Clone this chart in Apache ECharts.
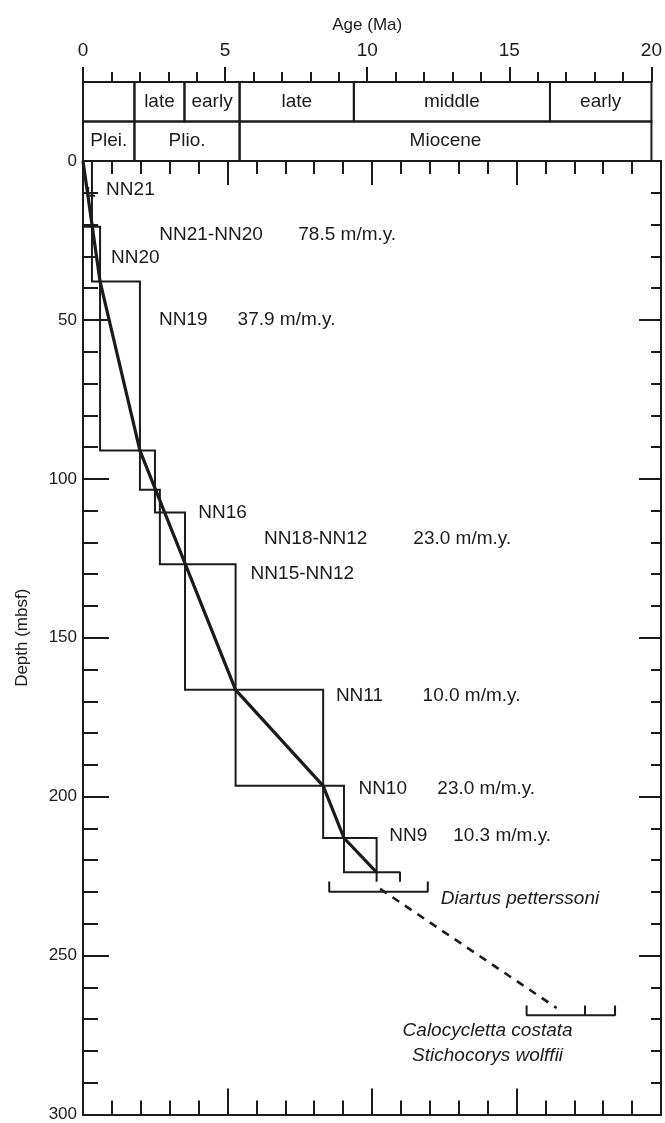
<!DOCTYPE html>
<html>
<head>
<meta charset="utf-8">
<script src="https://cdn.jsdelivr.net/npm/echarts@6/dist/echarts.min.js"></script>
<style>
html,body{margin:0;padding:0;background:#fff;}
#chart{width:665px;height:1123px;}
</style>
</head>
<body>
<div id="chart"></div>
<script>
// ---------- data ----------
const subEpochs = [["",0,1.81],["late",1.81,3.57],["early",3.57,5.51],["late",5.51,9.53],["middle",9.53,16.43],["early",16.43,20]];
const epochs = [["Plei.",0,1.81],["Plio.",1.81,5.51],["Miocene",5.51,20]];
// zone boxes: [name, ageTop, ageBase, depthTop, depthBase]
const zoneBoxes = [
  ["NN21",0,0.31,0,20.7],
  ["NN20",0.31,0.59,20.7,37.9],
  ["NN19",0.59,1.97,37.9,91.1],
  ["NN18",1.97,2.49,91.1,103.4],
  ["NN17",2.49,2.66,103.4,110.6],
  ["NN16",2.66,3.53,110.6,126.9],
  ["NN15-NN12",3.53,5.28,126.9,166.4],
  ["NN11",5.28,8.31,166.4,196.6],
  ["NN10",8.31,9.03,196.6,213.0],
  ["NN9",9.03,10.16,213.0,223.8]
];
// age-depth curve [age, depth]
const ageDepthLine = [[0,0],[0.59,37.9],[1.97,91.1],[5.28,166.4],[8.31,196.6],[9.03,213.0],[10.16,223.8]];
const nn21Mark = [[0.18,8.2],[0.18,10.9],[0.42,10.9]];
const nn8Piece = [[10.16,226.8],[10.16,223.8],[10.97,223.8],[10.97,226.8]];
const diartusRange = [[8.52,226.7],[8.52,229.9],[11.93,229.9],[11.93,226.7]];
const calocyclettaRange = [[15.35,265.7],[15.35,268.8],[18.41,268.8],[18.41,265.7]];
const calocyclettaMid = [[17.37,265.7],[17.37,268.8]];
const extrapolation = [[10.28,229.0],[16.39,266.5]];
// annotations: [age, depth, text, italic, align]
const annotations = [
  [0.80,9.1,"NN21",false,"left"],
  [2.64,23.2,"NN21-NN20",false,"left"],
  [7.45,23.2,"78.5 m/m.y.",false,"left"],
  [0.97,30.6,"NN20",false,"left"],
  [2.63,50.0,"NN19",false,"left"],
  [5.35,50.0,"37.9 m/m.y.",false,"left"],
  [3.99,110.7,"NN16",false,"left"],
  [6.26,118.9,"NN18-NN12",false,"left"],
  [11.43,118.9,"23.0 m/m.y.",false,"left"],
  [5.80,129.8,"NN15-NN12",false,"left"],
  [8.75,168.3,"NN11",false,"left"],
  [11.75,168.3,"10.0 m/m.y.",false,"left"],
  [9.53,197.6,"NN10",false,"left"],
  [12.26,197.6,"23.0 m/m.y.",false,"left"],
  [10.60,212.3,"NN9",false,"left"],
  [12.81,212.3,"10.3 m/m.y.",false,"left"],
  [12.38,232.2,"Diartus petterssoni",true,"left"],
  [14.00,273.6,"Calocycletta costata",true,"center"],
  [14.00,281.5,"Stichocorys wolffii",true,"center"]
];
const ageMin = 0, ageMax = 20, ageMajor = 5, ageMinor = 1;
const depthMin = 0, depthMax = 300, depthMajor = 50, depthMinor = 10;

// ---------- chart ----------
const INK = '#1b1b1b';
const FONT = '"Liberation Sans", Arial, Helvetica, sans-serif';
const chart = echarts.init(document.getElementById('chart'), null, {renderer:'canvas'});

const headerCells = [];
subEpochs.forEach(d => headerCells.push([d[1], d[2], 0, d[0]]));
epochs.forEach(d => headerCells.push([d[1], d[2], 1, d[0]]));

function polySeries(data, width, type) {
  return {
    type:'line', xAxisIndex:1, yAxisIndex:1, data:data, symbol:'none', silent:true,
    lineStyle:{color:INK, width:width, type:type||'solid'}, z:3, animation:false
  };
}
function tickAxis(kind, pos, min, max, step, len, showLine) {
  const ax = {gridIndex:1, type:'value', position:pos, min:min, max:max, interval:step,
    axisLine:{show:showLine, onZero:false, lineStyle:{color:INK, width:2}},
    axisTick:{show:true, inside:true, length:len, lineStyle:{color:INK, width:2}},
    axisLabel:{show:false}, splitLine:{show:false}};
  if (kind === 'y') ax.inverse = true;
  return ax;
}

const option = {
  backgroundColor:'#fff',
  animation:false,
  grid:[
    {left:83, right:4, top:82, height:79},
    {left:83, right:4, top:161, bottom:7}
  ],
  xAxis:[
    {gridIndex:0, type:'value', position:'top', min:ageMin, max:ageMax, interval:ageMajor,
     name:'Age (Ma)', nameLocation:'middle', nameGap:48,
     nameTextStyle:{fontFamily:FONT, fontSize:17, color:INK},
     axisLine:{show:true, onZero:false, lineStyle:{color:INK, width:2}},
     axisTick:{show:true, length:15, lineStyle:{color:INK, width:2}},
     minorTick:{show:true, splitNumber:5, length:10, lineStyle:{color:INK, width:2}},
     axisLabel:{fontFamily:FONT, fontSize:19, color:INK, margin:22},
     splitLine:{show:false}},
    tickAxis('x','top',ageMin,ageMax,ageMajor,24,true),
    tickAxis('x','top',ageMin,ageMax,ageMinor,13,false),
    tickAxis('x','bottom',ageMin,ageMax,ageMajor,26,true),
    tickAxis('x','bottom',ageMin,ageMax,ageMinor,14,false)
  ],
  yAxis:[
    {gridIndex:0, type:'value', min:0, max:2, inverse:true, show:false},
    Object.assign(tickAxis('y','left',depthMin,depthMax,depthMajor,26,true), {
      name:'Depth (mbsf)', nameLocation:'middle', nameGap:52, nameRotate:90,
      nameTextStyle:{fontFamily:FONT, fontSize:17, color:INK},
      axisLabel:{show:true, fontFamily:FONT, fontSize:17, color:INK, margin:6}}),
    tickAxis('y','left',depthMin,depthMax,depthMinor,15,false),
    tickAxis('y','right',depthMin,depthMax,depthMajor,22,true),
    tickAxis('y','right',depthMin,depthMax,depthMinor,10,false)
  ],
  series:[
    {type:'custom', xAxisIndex:0, yAxisIndex:0, data:headerCells, silent:true,
     renderItem:function(params, api){
       const d = headerCells[params.dataIndex];
       const p1 = api.coord([d[0], d[2]]);
       const p2 = api.coord([d[1], d[2]+1]);
       return {type:'group', children:[
         {type:'rect', shape:{x:p1[0], y:p1[1], width:p2[0]-p1[0], height:p2[1]-p1[1]},
          style:{fill:null, stroke:INK, lineWidth:2}},
         {type:'text', x:(p1[0]+p2[0])/2, y:(p1[1]+p2[1])/2,
          style:{text:d[3], align:'center', verticalAlign:'middle', fill:INK, font:'19px '+FONT}}
       ]};
     }},
    {type:'custom', xAxisIndex:1, yAxisIndex:1, data:zoneBoxes.map(b=>[b[1],b[2],b[3],b[4]]), silent:true, z:2,
     renderItem:function(params, api){
       const p1 = api.coord([api.value(0), api.value(2)]);
       const p2 = api.coord([api.value(1), api.value(3)]);
       const x = Math.min(p1[0],p2[0]), y = Math.min(p1[1],p2[1]);
       return {type:'rect', shape:{x:x, y:y, width:Math.abs(p2[0]-p1[0]), height:Math.abs(p2[1]-p1[1])},
               style:{fill:null, stroke:INK, lineWidth:2}};
     }},
    polySeries(ageDepthLine, 3.2),
    polySeries(nn21Mark, 2),
    polySeries(nn8Piece, 2),
    polySeries(diartusRange, 2),
    polySeries(calocyclettaRange, 2),
    polySeries(calocyclettaMid, 2),
    polySeries(extrapolation, 2.6, [8,7]),
    {type:'custom', xAxisIndex:1, yAxisIndex:1, data:annotations.map(a=>[a[0],a[1]]), silent:true, z:5,
     renderItem:function(params, api){
       const a = annotations[params.dataIndex];
       const p = api.coord([a[0], a[1]]);
       return {type:'text', x:p[0], y:p[1],
               style:{text:a[2], align:a[4], verticalAlign:'middle', fill:INK,
                      font:(a[3]?'italic ':'')+'19px '+FONT}};
     }}
  ]
};
chart.setOption(option);
</script>
</body>
</html>
